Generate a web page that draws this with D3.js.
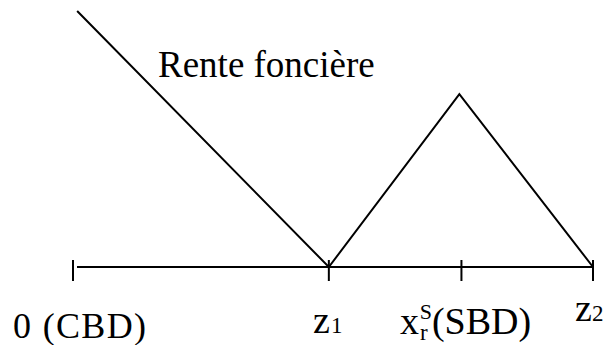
<!DOCTYPE html>
<html>
<head>
<meta charset="utf-8">
<script src="https://cdn.jsdelivr.net/npm/d3@7"></script>
</head>
<body style="margin:0">
<svg id="canvas" width="606" height="345" font-family="Liberation Serif, serif"></svg>
<script>
// distance from CBD (arbitrary units) of the ticks on the axis
let tickPositions = [0, 4.92, 7.47, 10];
// land rent curve: distance and rent
let rentDistance = [0.08, 4.92, 7.43, 10];
let rentValue = [10, 0, 6.75, 0];
// labels: text, x, baseline y, size
let labels = [
    ['Rente foncière', 158, 77, 37],
    ['0 (CBD)', 13, 338, 36]
];
// labels with pieces: text, size, dx, dy
let z1Label = [['z', 38, 0, 0], ['1', 23, 1, 0]];
let sbdLabel = [['x', 38, 0, 0], ['r', 23, 1, 6], ['S', 22, -8, -21], ['(SBD)', 38, 0, 15]];
let z2Label = [['z', 38, 0, 0], ['2', 23, 0, 0]];

let canvas = d3.select("#canvas");

let xScale = d3.scaleLinear().domain([0, 10]).range([73, 593]);
let yScale = d3.scaleLinear().domain([0, 10]).range([267, 11]);

// axis line
canvas.append('line')
    .attr('x1', xScale(0) + 4)
    .attr('x2', xScale(10))
    .attr('y1', yScale(0))
    .attr('y2', yScale(0))
    .attr('stroke', '#000')
    .attr('stroke-width', 2);

canvas.selectAll('.tick')
    .data(tickPositions)
    .enter()
    .append('line')
    .attr('class', 'tick')
    .attr('x1', (d) => xScale(d))
    .attr('x2', (d) => xScale(d))
    .attr('y1', yScale(0) - 7)
    .attr('y2', yScale(0) + 14)
    .attr('stroke', '#000')
    .attr('stroke-width', 2);

// rent curve
let rentPoints = rentDistance.map((d, i) => [d, rentValue[i]]);
let line = d3.line()
    .x((p) => xScale(p[0]))
    .y((p) => yScale(p[1]));

canvas.append('path')
    .attr('d', line(rentPoints))
    .attr('fill', 'none')
    .attr('stroke', '#000')
    .attr('stroke-width', 2);

canvas.selectAll('.label')
    .data(labels)
    .enter()
    .append('text')
    .attr('class', 'label')
    .attr('x', (d) => d[1])
    .attr('y', (d) => d[2])
    .style('font-family', '"Liberation Serif"')
    .style('font-size', (d) => d[3] + 'px')
    .text((d) => d[0]);

// the CBD label is set a little wider in the original
canvas.selectAll('.label')
    .filter((d) => d[0] === '0 (CBD)')
    .attr('textLength', 133)
    .attr('lengthAdjust', 'spacing');

let drawPieces = (pieces, x, y) => {
    let t = canvas.append('text')
        .attr('x', x)
        .attr('y', y)
        .style('font-family', '"Liberation Serif"');
    t.selectAll('tspan')
        .data(pieces)
        .enter()
        .append('tspan')
        .style('font-size', (d) => d[1] + 'px')
        .attr('dx', (d) => d[2])
        .attr('dy', (d) => d[3])
        .text((d) => d[0]);
}

drawPieces(z1Label, 313, 333);
drawPieces(sbdLabel, 400, 334);
drawPieces(z2Label, 575, 321);
</script>
</body>
</html>
